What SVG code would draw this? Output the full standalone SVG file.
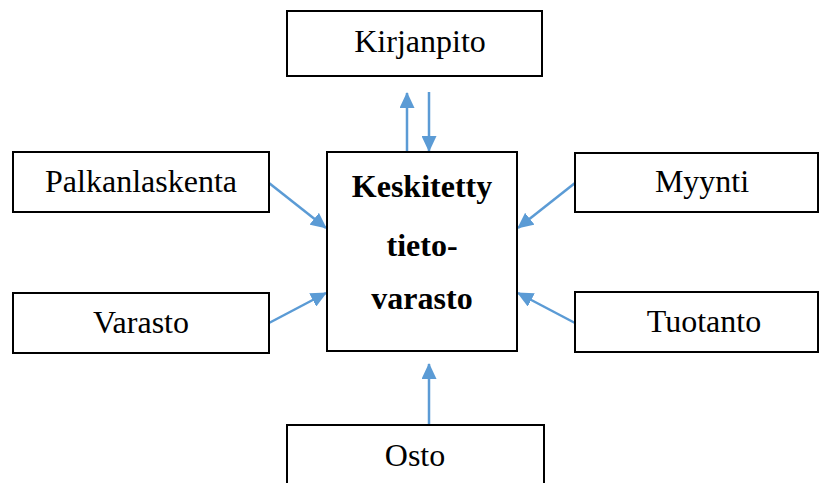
<svg xmlns="http://www.w3.org/2000/svg" width="819" height="483" viewBox="0 0 819 483">
  <defs>
    <style>
      .box { fill: #ffffff; stroke: #000000; stroke-width: 2; }
      .link { stroke: #5B9BD5; stroke-width: 2.5; fill: none; marker-end: url(#head); }
    </style>
    <marker id="head" viewBox="0 0 16 15" markerWidth="16" markerHeight="15" refX="15" refY="7.5" orient="auto" markerUnits="userSpaceOnUse">
      <path d="M0,0 L16,7.5 L0,15 Z" fill="#5B9BD5"/>
    </marker>
  </defs>

  <rect width="819" height="483" fill="#ffffff"/>

  <g id="connectors">
    <line class="link" x1="407" y1="152" x2="407" y2="93"/>
    <line class="link" x1="429" y1="92" x2="429" y2="151"/>
    <line class="link" x1="269" y1="183" x2="326" y2="228"/>
    <line class="link" x1="269" y1="323" x2="326" y2="293"/>
    <line class="link" x1="575" y1="183" x2="518" y2="228"/>
    <line class="link" x1="575" y1="323" x2="518" y2="293"/>
    <line class="link" x1="429" y1="425" x2="429" y2="364"/>
  </g>

  <g id="kirjanpito">
    <rect class="box" x="287" y="11" width="255" height="65"/>
    <text x="420" y="52" font-family="Liberation Serif" font-size="32" text-anchor="middle" fill="#000000">Kirjanpito</text>
  </g>

  <g id="keskitetty-tietovarasto">
    <rect class="box" x="327" y="152" width="190" height="199"/>
    <text x="422" y="197" font-family="Liberation Serif" font-size="32" font-weight="bold" text-anchor="middle" fill="#000000">Keskitetty</text>
    <text x="422" y="256" font-family="Liberation Serif" font-size="32" font-weight="bold" text-anchor="middle" fill="#000000">tieto-</text>
    <text x="422" y="309" font-family="Liberation Serif" font-size="32" font-weight="bold" text-anchor="middle" fill="#000000">varasto</text>
  </g>

  <g id="palkanlaskenta">
    <rect class="box" x="13" y="152" width="256" height="60"/>
    <text x="141" y="192" font-family="Liberation Serif" font-size="32" text-anchor="middle" fill="#000000">Palkanlaskenta</text>
  </g>

  <g id="varasto">
    <rect class="box" x="13" y="293" width="256" height="60"/>
    <text x="141" y="333" font-family="Liberation Serif" font-size="32" text-anchor="middle" fill="#000000">Varasto</text>
  </g>

  <g id="myynti">
    <rect class="box" x="575" y="153" width="243" height="59"/>
    <text x="702" y="192" font-family="Liberation Serif" font-size="32" text-anchor="middle" fill="#000000">Myynti</text>
  </g>

  <g id="tuotanto">
    <rect class="box" x="575" y="292" width="243" height="60"/>
    <text x="704" y="332" font-family="Liberation Serif" font-size="32" text-anchor="middle" fill="#000000">Tuotanto</text>
  </g>

  <g id="osto">
    <rect class="box" x="287" y="425" width="257" height="70"/>
    <text x="415" y="466" font-family="Liberation Serif" font-size="32" text-anchor="middle" fill="#000000">Osto</text>
  </g>
</svg>
